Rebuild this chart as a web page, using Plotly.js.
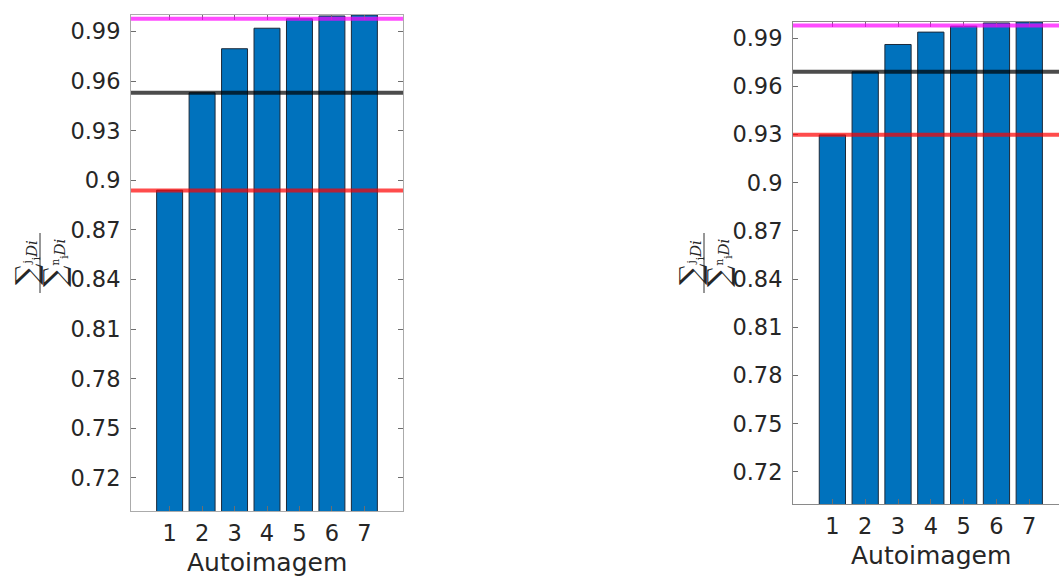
<!DOCTYPE html>
<html>
<head>
<meta charset="utf-8">
<script src="https://cdn.plot.ly/plotly-3.0.1.min.js"></script>
<style>
  html, body { margin: 0; padding: 0; background: #ffffff; }
  #chart { width: 1059px; height: 576px; }
</style>
</head>
<body>
<div id="chart"></div>
<script>
// Cumulative fraction of the eigenvalue sum for the first 7 eigenimages (two cases)
const autoimagens = [1, 2, 3, 4, 5, 6, 7];
const acumuladoA = [0.894, 0.953, 0.9796, 0.992, 0.9977, 0.9994, 1.0];
const acumuladoB = [0.9297, 0.969, 0.986, 0.9937, 0.9974, 0.9994, 1.0];

// Reference levels drawn as horizontal lines: [red, black, magenta]
const niveisA = [0.8938, 0.953, 0.9977];
const niveisB = [0.9298, 0.969, 0.9978];

const yTickVals = [0.72, 0.75, 0.78, 0.81, 0.84, 0.87, 0.9, 0.93, 0.96, 0.99];
const yTickText = ['0.72', '0.75', '0.78', '0.81', '0.84', '0.87', '0.9', '0.93', '0.96', '0.99'];

const W = 1059, H = 576;
const px = v => v / W;
const py = v => 1 - v / H;

const tickFont = { family: 'DejaVu Sans', size: 22.5, color: '#262626' };
const barStyle = { color: '#0072BD', line: { color: '#1c2a3a', width: 1 } };

const traces = [
  { type: 'bar', x: autoimagens, y: acumuladoA, xaxis: 'x', yaxis: 'y', width: 0.8, marker: barStyle, hoverinfo: 'x+y' },
  { type: 'bar', x: autoimagens, y: acumuladoB, xaxis: 'x2', yaxis: 'y2', width: 0.8, marker: barStyle, hoverinfo: 'x+y' }
];

function xAxis(domain, range, anchor, lineColor) {
  return {
    domain: domain, range: range, anchor: anchor,
    tickmode: 'array', tickvals: autoimagens, ticktext: autoimagens.map(String),
    ticks: 'inside', ticklen: 5, tickcolor: '#6e6e6e', tickwidth: 1,
    showline: true, linecolor: lineColor, linewidth: 1, mirror: 'ticks',
    showgrid: false, zeroline: false, tickfont: tickFont, ticklabelstandoff: 2,
    fixedrange: true
  };
}
function yAxis(domain, anchor, lineColor, mirror) {
  return {
    domain: domain, range: [0.7, 1.0], anchor: anchor,
    tickmode: 'array', tickvals: yTickVals, ticktext: yTickText,
    ticks: 'inside', ticklen: 5, tickcolor: '#6e6e6e', tickwidth: 1,
    showline: true, linecolor: lineColor, linewidth: 1, mirror: mirror,
    showgrid: false, zeroline: false, tickfont: tickFont, ticklabelstandoff: 5,
    fixedrange: true
  };
}

const lineColors = ['rgba(255,0,0,0.7)', 'rgba(0,0,0,0.7)', 'rgba(255,0,255,0.7)'];
const shapes = [];
niveisA.forEach((v, i) => shapes.push({
  type: 'line', xref: 'x domain', yref: 'y', x0: 0, x1: 1, y0: v, y1: v,
  line: { color: lineColors[i], width: 4 }, layer: 'above'
}));
niveisB.forEach((v, i) => shapes.push({
  type: 'line', xref: 'x2 domain', yref: 'y2', x0: 0, x1: 1, y0: v, y1: v,
  line: { color: lineColors[i], width: 4 }, layer: 'above'
}));

// Fraction bar of the y-axis label (sum up to j over sum up to n)
[40, 704].forEach(cx => shapes.push({
  type: 'line', xref: 'paper', yref: 'paper', x0: px(cx), x1: px(cx), y0: py(233), y1: py(293),
  line: { color: '#303030', width: 1 }
}));

const mathFont = { family: 'DejaVu Serif', size: 15, color: '#262626' };
const numerador = '<span style="font-size:30px">∑</span><sup>j</sup><sub>i</sub><i>Di</i>';
const denominador = '<span style="font-size:30px">∑</span><sup>n</sup><sub>i</sub><i>Di</i>';

const rotulo = (text, x) => ({
  text: text, xref: 'paper', yref: 'paper', x: px(x), y: py(263), textangle: -90,
  showarrow: false, font: mathFont, xanchor: 'center', yanchor: 'middle'
});
const tituloX = (x, y) => ({
  text: 'Autoimagem', xref: 'paper', yref: 'paper', x: px(x), y: py(y), showarrow: false,
  font: { family: 'DejaVu Sans', size: 25, color: '#262626' }, xanchor: 'center', yanchor: 'middle'
});

const annotations = [
  rotulo(numerador, 26), rotulo(denominador, 54),
  rotulo(numerador, 690), rotulo(denominador, 718),
  tituloX(267, 562), tituloX(931, 555)
];

const layout = {
  width: W, height: H,
  margin: { l: 0, r: 0, t: 0, b: 0, pad: 0 },
  paper_bgcolor: '#ffffff', plot_bgcolor: '#ffffff',
  showlegend: false,
  xaxis: xAxis([px(131), px(403)], [-0.19, 8.19], 'y', '#ababab'),
  yaxis: yAxis([1 - 511 / H, 1 - 15 / H], 'x', '#ababab', 'ticks'),
  xaxis2: xAxis([px(793), 1], [-0.2, 7.906], 'y2', '#8a8a8a'),
  yaxis2: yAxis([1 - 504 / H, 1 - 22 / H], 'x2', '#8a8a8a', false),
  shapes: shapes,
  annotations: annotations
};

Plotly.newPlot('chart', traces, layout, { displayModeBar: false, staticPlot: true });
</script>
</body>
</html>
